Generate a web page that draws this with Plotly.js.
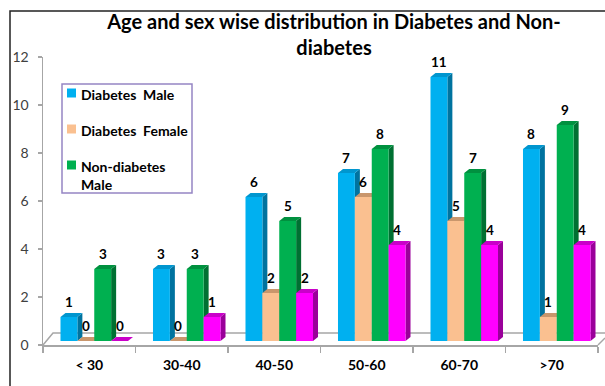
<!DOCTYPE html>
<html>
<head>
<meta charset="utf-8">
<script src="https://cdn.plot.ly/plotly-3.0.1.min.js"></script>
<style>html,body{margin:0;padding:0;background:#fff;}#chart{width:605px;height:386px;}</style>
</head>
<body>
<div id="chart"></div>
<script>
// ---- data ----
const categories = ['< 30', '30-40', '40-50', '50-60', '60-70', '>70'];
const diabetesMale = [1, 3, 6, 7, 11, 8];
const diabetesFemale = [0, 0, 2, 6, 5, 1];
const nonDiabetesMale = [3, 3, 5, 8, 7, 9];
const nonDiabetesFemale = [0, 1, 2, 4, 4, 4];
const seriesNames = ['Diabetes  Male', 'Diabetes  Female', 'Non-diabetes<br>Male', 'Non-diabetes  Female'];
const yTicks = [0, 2, 4, 6, 8, 10, 12];
const titleText = 'Age and sex wise distribution in Diabetes and Non-<br>diabetes';

// ---- styling ----
const series = [diabetesMale, diabetesFemale, nonDiabetesMale, nonDiabetesFemale];
const front = ['#00B0F0', '#FAC090', '#00B050', '#FF00FF'];
const topC  = ['#0096cf', '#c9966c', '#00913f', '#c900c9'];
const sideC = ['#00739f', '#b9875f', '#007032', '#9a009a'];
const inLegend = [true, true, true, false];

const W = 605, H = 386;
const M = {l: 43, r: 7, t: 57, b: 41};
const pw = W - M.l - M.r, ph = H - M.t - M.b;
const pxPerCat = pw / categories.length;
const pxPerUnit = ph / 12;
const dxu = 5 / pxPerCat;       // 3D depth, x
const dyu = 4 / pxPerUnit;      // 3D depth, y
const shiftX = 5 / pxPerCat;    // bars sit inside floor depth
const groupW = 0.73;
const bw = groupW / series.length;
const FONT = 'Lato, Carlito, Calibri, sans-serif';

const px2x = p => (p - M.l) / pw;
const py2y = p => (M.t + ph - p) / ph;

const traces = [];
const shapes = [];
const annotations = [];

// dummy trace to register visible y axis
traces.push({type: 'scatter', x: [categories[0]], y: [0], xaxis: 'x', yaxis: 'y',
  mode: 'markers', marker: {opacity: 0}, hoverinfo: 'skip', showlegend: false});

series.forEach((vals, k) => {
  const off = -groupW / 2 + shiftX + k * bw;
  traces.push({
    type: 'bar', name: seriesNames[k].replace('<br>', ' '), x: categories, y: vals,
    xaxis: 'x', yaxis: 'y2', offset: off, width: bw,
    marker: {color: front[k], line: {width: 0}}, showlegend: false
  });
});

// 3D faces, drawn category by category so later bars cover earlier sides
categories.forEach((c, i) => {
  series.forEach((vals, k) => {
    const v = vals[i];
    const x0 = i - groupW / 2 + shiftX + k * bw;
    const x1 = x0 + bw;
    if (v > 0) {
      shapes.push({type: 'path', xref: 'x', yref: 'y2', layer: 'below',
        path: `M${x1},0 L${x1 + dxu},${dyu} L${x1 + dxu},${v + dyu} L${x1},${v} Z`,
        fillcolor: sideC[k], line: {width: 0}});
    }
    shapes.push({type: 'path', xref: 'x', yref: 'y2', layer: 'below',
      path: `M${x0},${v} L${x1},${v} L${x1 + dxu},${v + dyu} L${x0 + dxu},${v + dyu} Z`,
      fillcolor: topC[k], line: {width: 0}});
    annotations.push({xref: 'x', yref: 'y2', x: (x0 + x1) / 2, y: v, text: String(v),
      showarrow: false, yanchor: 'middle', yshift: 15,
      font: {family: FONT, size: 13.5, color: '#000', weight: 'bold'}});
  });
});

// floor lines
const floorColor = '#a6a6a6';
shapes.push({type: 'path', xref: 'paper', yref: 'paper', layer: 'below',
  path: `M${px2x(43)},${py2y(345)} L${px2x(53)},${py2y(333)} L${px2x(605)},${py2y(333)}`,
  line: {color: floorColor, width: 1.5}});
shapes.push({type: 'path', xref: 'paper', yref: 'paper', layer: 'below',
  path: `M${px2x(598)},${py2y(345)} L${px2x(605)},${py2y(338)}`,
  line: {color: floorColor, width: 1.5}});

// outer frame (left + top)
shapes.push({type: 'path', xref: 'paper', yref: 'paper', layer: 'above',
  path: `M${px2x(10)},${py2y(386)} L${px2x(10)},${py2y(11)} L${px2x(605)},${py2y(11)}`,
  line: {color: '#222', width: 1.5}});

// legend box
shapes.push({type: 'rect', xref: 'paper', yref: 'paper', layer: 'above',
  x0: px2x(62), x1: px2x(192), y0: py2y(193), y1: py2y(84),
  line: {color: '#9585c4', width: 1.5}, fillcolor: 'rgba(0,0,0,0)'});
const legY = [93, 129, 165];
let li = 0;
series.forEach((vals, k) => {
  if (!inLegend[k]) return;
  const cy = legY[li++];
  shapes.push({type: 'rect', xref: 'paper', yref: 'paper', layer: 'above',
    x0: px2x(67), x1: px2x(76), y0: py2y(cy + 4.5), y1: py2y(cy - 4.5),
    fillcolor: front[k], line: {width: 0}});
  annotations.push({xref: 'paper', yref: 'paper', x: px2x(79), y: py2y(cy - 9),
    xanchor: 'left', yanchor: 'top', align: 'left', showarrow: false,
    text: seriesNames[k], font: {family: FONT, size: 14, color: '#000', weight: 'bold'}});
});

const layout = {
  width: W, height: H, margin: M,
  paper_bgcolor: '#fff', plot_bgcolor: 'rgba(0,0,0,0)',
  showlegend: false, barmode: 'overlay',
  title: {text: titleText, x: 334 / W, xref: 'container', xanchor: 'center',
    y: 1 - 29 / H, yref: 'container', yanchor: 'top',
    font: {family: FONT, size: 20, color: '#000', weight: 'bold'}},
  xaxis: {type: 'category', categoryorder: 'array', categoryarray: categories,
    range: [-0.5, categories.length - 0.5], showline: true, linecolor: floorColor, linewidth: 1.5,
    ticks: 'outside', tickson: 'boundaries', ticklen: 6, tickcolor: floorColor, tickwidth: 1.5,
    showgrid: false, zeroline: false, ticklabelstandoff: 7,
    tickfont: {family: FONT, size: 14, color: '#000', weight: 'bold'}, fixedrange: true},
  yaxis: {range: [0, 12], tickmode: 'array', tickvals: yTicks, ticktext: yTicks.map(String),
    showline: true, linecolor: floorColor, linewidth: 1.5, ticks: 'outside', ticklen: 4,
    tickcolor: floorColor, tickwidth: 1.5, showgrid: false, zeroline: false, ticklabelstandoff: 6,
    tickfont: {family: FONT, size: 14, color: '#404040'}, fixedrange: true},
  yaxis2: {overlaying: 'y', range: [-dyu, 12 - dyu], visible: false, fixedrange: true},
  shapes: shapes, annotations: annotations
};

Plotly.newPlot('chart', traces, layout, {displayModeBar: false, staticPlot: true});
</script>
</body>
</html>
